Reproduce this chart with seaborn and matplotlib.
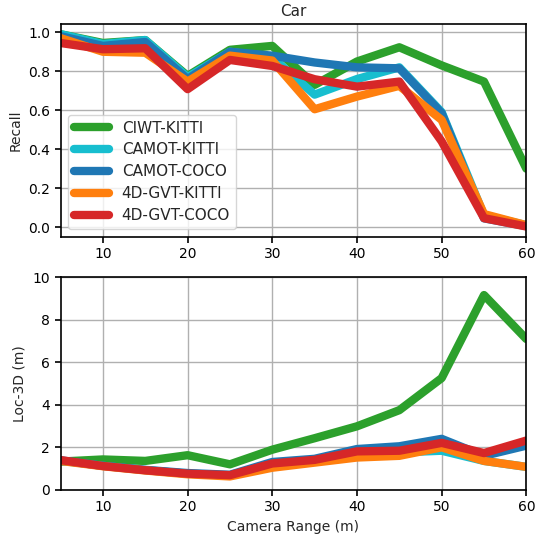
import numpy as np
import pandas as pd
import seaborn as sns
import matplotlib
matplotlib.use("Agg")
import matplotlib.pyplot as plt

ranges = [5, 10, 15, 20, 25, 30, 35, 40, 45, 50, 55, 60]
methods = ["CIWT-KITTI", "CAMOT-KITTI", "CAMOT-COCO", "4D-GVT-KITTI", "4D-GVT-COCO"]
colors = ["#2ca02c", "#17becf", "#1f77b4", "#ff7f0e", "#d62728"]

recall_ciwt_kitti = [0.99, 0.945, 0.96, 0.776, 0.91, 0.93, 0.73, 0.85, 0.923, 0.83, 0.747, 0.30]
recall_camot_kitti = [0.99, 0.94, 0.96, 0.77, 0.90, 0.87, 0.68, 0.76, 0.82, 0.59, 0.06, 0.01]
recall_camot_coco = [0.98, 0.93, 0.95, 0.76, 0.90, 0.88, 0.845, 0.82, 0.815, 0.585, 0.045, 0.005]
recall_4dgvt_kitti = [0.97, 0.90, 0.895, 0.747, 0.88, 0.855, 0.605, 0.67, 0.725, 0.55, 0.067, 0.01]
recall_4dgvt_coco = [0.945, 0.913, 0.918, 0.708, 0.858, 0.827, 0.759, 0.721, 0.747, 0.44, 0.046, 0.003]

loc_ciwt_kitti = [1.32, 1.42, 1.35, 1.62, 1.19, 1.88, 2.42, 2.98, 3.74, 5.25, 9.16, 7.09]
loc_camot_kitti = [1.36, 1.12, 0.92, 0.75, 0.66, 1.15, 1.35, 1.70, 1.75, 1.83, 1.35, 1.07]
loc_camot_coco = [1.38, 1.12, 0.93, 0.78, 0.70, 1.30, 1.45, 1.91, 2.04, 2.39, 1.59, 2.07]
loc_4dgvt_kitti = [1.35, 1.10, 0.90, 0.72, 0.62, 1.03, 1.27, 1.51, 1.59, 1.99, 1.35, 1.07]
loc_4dgvt_coco = [1.39, 1.11, 0.91, 0.75, 0.68, 1.23, 1.40, 1.80, 1.83, 2.20, 1.72, 2.31]

recall = [recall_ciwt_kitti, recall_camot_kitti, recall_camot_coco, recall_4dgvt_kitti, recall_4dgvt_coco]
loc3d = [loc_ciwt_kitti, loc_camot_kitti, loc_camot_coco, loc_4dgvt_kitti, loc_4dgvt_coco]

rows = []
for m, r, l in zip(methods, recall, loc3d):
    for x, rv, lv in zip(ranges, r, l):
        rows.append({"Method": m, "Range": x, "Recall": rv, "Loc": lv})
df = pd.DataFrame(rows)

sns.set_theme(style="whitegrid")
plt.rcParams["font.family"] = ["DejaVu Sans"]
plt.rcParams.update({
    "axes.edgecolor": "black",
    "axes.linewidth": 1.2,
    "grid.color": "#b0b0b0",
    "grid.linewidth": 1.0,
    "xtick.bottom": True,
    "ytick.left": True,
    "xtick.color": "black",
    "ytick.color": "black",
})

fig, (ax1, ax2) = plt.subplots(2, 1, figsize=(5.36, 5.44), dpi=100)
palette = dict(zip(methods, colors))

sns.lineplot(data=df, x="Range", y="Recall", hue="Method", hue_order=methods,
             palette=palette, linewidth=6, ax=ax1, legend=True)
sns.lineplot(data=df, x="Range", y="Loc", hue="Method", hue_order=methods,
             palette=palette, linewidth=6, ax=ax2, legend=False)

for ax in (ax1, ax2):
    ax.set_xlim(5, 60)
    ax.set_xticks([10, 20, 30, 40, 50, 60])
    ax.tick_params(axis="both", labelsize=10, length=4, width=1.2, direction="out")
    for s in ax.spines.values():
        s.set_visible(True)
        s.set_color("black")

ax1.set_ylim(-0.05, 1.04)
ax1.set_yticks([0.0, 0.2, 0.4, 0.6, 0.8, 1.0])
ax1.set_yticklabels(["0.0", "0.2", "0.4", "0.6", "0.8", "1.0"])
ax1.set_xlabel("")
ax1.set_ylabel("Recall", fontsize=10)
ax1.set_title("Car", fontsize=11)
leg = ax1.legend(loc="lower left", fontsize=11, frameon=True, handlelength=2.3,
                 labelspacing=0.45)
leg.set_title(None)
for h in leg.get_lines():
    h.set_linewidth(6)

ax2.set_ylim(0, 10)
ax2.set_yticks([0, 2, 4, 6, 8, 10])
ax2.set_xlabel("Camera Range (m)", fontsize=10)
ax2.set_ylabel("Loc-3D (m)", fontsize=10)

fig.subplots_adjust(left=0.113, right=0.982, top=0.955, bottom=0.1, hspace=0.19)
fig.savefig("out.png", dpi=100)
